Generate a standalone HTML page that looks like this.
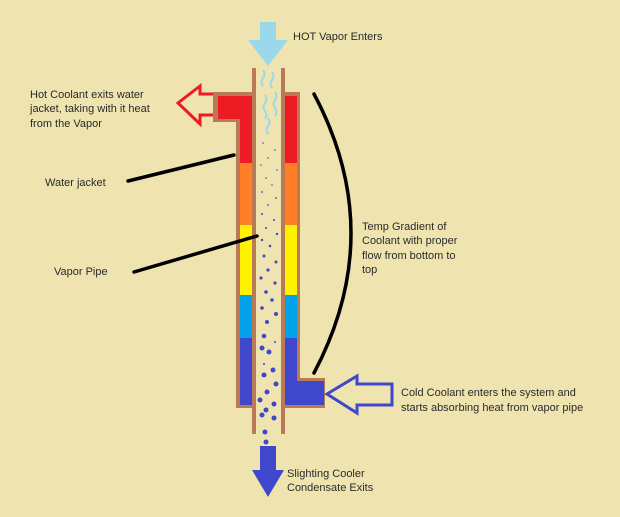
<!DOCTYPE html>
<html><head><meta charset="utf-8"><style>
html,body{margin:0;padding:0;background:#efe4b0;}
svg{display:block}
text{font-family:"Liberation Sans",sans-serif;font-size:11px;fill:#2a2a2a}
</style></head><body>
<svg width="620" height="517" viewBox="0 0 620 517" xmlns="http://www.w3.org/2000/svg">
<rect width="620" height="517" fill="#efe4b0"/>
<!-- outer jacket brown -->
<path d="M213,92 H256 V408 H236 V122 H213 Z" fill="#b97a57"/>
<path d="M281,92 H300 V378 H325 V408 H281 Z" fill="#b97a57"/>
<!-- left jacket bands -->
<rect x="218" y="96" width="34" height="23" fill="#ed1c24"/>
<rect x="240" y="96" width="12" height="67" fill="#ed1c24"/>
<rect x="240" y="163" width="12" height="62" fill="#ff7f27"/>
<rect x="240" y="225" width="12" height="70" fill="#fff200"/>
<rect x="240" y="295" width="12" height="43" fill="#00a2e8"/>
<rect x="240" y="338" width="12" height="67" fill="#3f48cc"/>
<!-- right jacket bands -->
<rect x="285" y="96" width="12" height="67" fill="#ed1c24"/>
<rect x="285" y="163" width="12" height="62" fill="#ff7f27"/>
<rect x="285" y="225" width="12" height="70" fill="#fff200"/>
<rect x="285" y="295" width="12" height="43" fill="#00a2e8"/>
<rect x="285" y="338" width="12" height="67" fill="#3f48cc"/>
<rect x="285" y="381" width="39" height="24" fill="#3f48cc"/>
<!-- vapor pipe -->
<rect x="252" y="68" width="33" height="366" fill="#b97a57"/>
<rect x="256" y="68" width="25" height="366" fill="#efe4b0"/>
<!-- vapor squiggles -->
<g stroke="#99d9ea" stroke-width="2" fill="none">
<path d="M263,70 q3,4 0,8 q-3,4 0,8"/><path d="M272,72 q3,4 0,8 q-3,4 0,8"/>
<path d="M265,95 q3,4 0,8 q-3,4 0,8 q3,4 0,8"/><path d="M275,92 q3,4 0,8 q-3,4 0,8 q3,4 0,8"/>
<path d="M268,118 q3,4 0,8 q-3,4 0,8"/>
</g>
<!-- droplets -->
<g fill="#3f48cc">
<circle cx="263" cy="143" r="0.8"/><circle cx="275" cy="150" r="0.8"/><circle cx="268" cy="158" r="0.8"/><circle cx="261" cy="165" r="0.8"/><circle cx="277" cy="170" r="0.8"/><circle cx="266" cy="178" r="0.8"/><circle cx="272" cy="185" r="0.8"/><circle cx="262" cy="192" r="0.9"/><circle cx="276" cy="198" r="0.9"/><circle cx="268" cy="205" r="0.9"/><circle cx="262" cy="214" r="1"/><circle cx="274" cy="220" r="1"/><circle cx="266" cy="228" r="1"/><circle cx="277" cy="234" r="1.2"/><circle cx="262" cy="240" r="1.2"/><circle cx="270" cy="246" r="1.3"/><circle cx="264" cy="256" r="1.5"/><circle cx="276" cy="262" r="1.5"/><circle cx="268" cy="270" r="1.6"/><circle cx="261" cy="278" r="1.6"/><circle cx="275" cy="283" r="1.6"/><circle cx="266" cy="292" r="1.8"/><circle cx="272" cy="300" r="1.8"/><circle cx="262" cy="308" r="1.8"/><circle cx="276" cy="314" r="2"/><circle cx="267" cy="322" r="2"/><circle cx="264" cy="336" r="2.3"/><circle cx="262" cy="348" r="2.5"/><circle cx="269" cy="352" r="2.5"/><circle cx="275" cy="342" r="1"/><circle cx="264" cy="364" r="1"/><circle cx="273" cy="370" r="2.5"/><circle cx="264" cy="375" r="2.5"/><circle cx="276" cy="384" r="2.5"/><circle cx="267" cy="392" r="2.5"/><circle cx="260" cy="400" r="2.5"/><circle cx="274" cy="404" r="2.5"/><circle cx="266" cy="410" r="2.5"/><circle cx="274" cy="418" r="2.5"/><circle cx="262" cy="415" r="2.5"/><circle cx="265" cy="432" r="2.5"/><circle cx="266" cy="442" r="2.5"/>
</g>
<!-- hot vapor arrow -->
<path d="M260,22 H276 V40 H288 L268,66 L248,40 H260 Z" fill="#99d9ea"/>
<!-- red outlined arrow -->
<path d="M213,94 H200 V86 L178,103 L200,124 V115 H213" fill="none" stroke="#ed1c24" stroke-width="3"/>
<!-- blue outlined arrow -->
<path d="M327,394 L357,376 V384 H392 V405 H357 V413 Z" fill="none" stroke="#3f48cc" stroke-width="3" stroke-linejoin="miter"/>
<!-- bottom arrow -->
<path d="M260,446 H276 V470 H284 L268,497 L252,470 H260 Z" fill="#3f48cc"/>
<!-- lines -->
<g stroke="#000" stroke-width="3.5" fill="none" stroke-linecap="round">
<line x1="128" y1="181" x2="234" y2="155"/>
<line x1="134" y1="272" x2="257" y2="236"/>
<path d="M314,94 Q388,233 314,373"/>
</g>
<!-- labels -->
<text x="293" y="40">HOT Vapor Enters</text>
<text x="30" y="98">Hot Coolant exits water</text>
<text x="30" y="112">jacket, taking with it heat</text>
<text x="30" y="127">from the Vapor</text>
<text x="45" y="186">Water jacket</text>
<text x="54" y="275">Vapor Pipe</text>
<text x="362" y="230">Temp Gradient of</text>
<text x="362" y="244">Coolant with proper</text>
<text x="362" y="259">flow from bottom to</text>
<text x="362" y="273">top</text>
<text x="401" y="396">Cold Coolant enters the system and</text>
<text x="401" y="411">starts absorbing heat from vapor pipe</text>
<text x="287" y="477">Slighting Cooler</text>
<text x="287" y="491">Condensate Exits</text>
</svg>
</body></html>
